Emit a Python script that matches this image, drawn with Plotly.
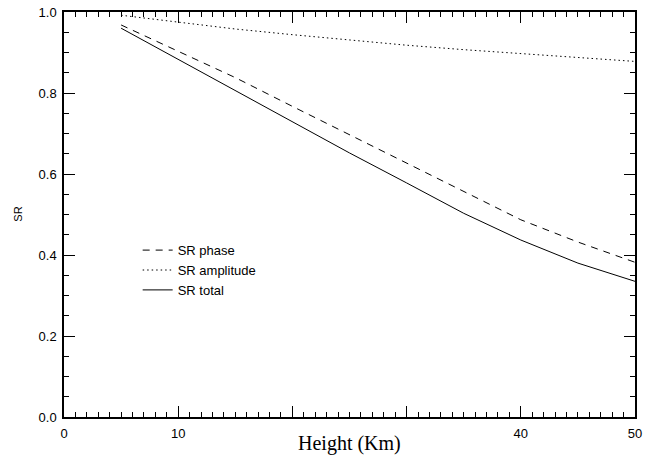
import plotly.graph_objects as go

height_km = [5, 10, 15, 20, 25, 30, 35, 40, 45, 50]
sr_phase = [0.968, 0.904, 0.838, 0.767, 0.697, 0.627, 0.557, 0.487, 0.432, 0.382]
sr_amplitude = [0.992, 0.975, 0.958, 0.944, 0.931, 0.918, 0.907, 0.897, 0.887, 0.878]
sr_total = [0.960, 0.883, 0.804, 0.728, 0.652, 0.578, 0.503, 0.437, 0.380, 0.335]

x_tickvals = [0, 10, 20, 30, 40, 50]
x_ticktext = ["0", "10", "", "", "40", "50"]
y_tickvals = [0.0, 0.2, 0.4, 0.6, 0.8, 1.0]
y_ticktext = ["0.0", "0.2", "0.4", "0.6", "0.8", "1.0"]

fig = go.Figure()
fig.add_trace(go.Scatter(x=height_km, y=sr_phase, mode="lines", name="SR phase",
                         line=dict(color="black", width=1, dash="7px,6px")))
fig.add_trace(go.Scatter(x=height_km, y=sr_amplitude, mode="lines", name="SR amplitude",
                         line=dict(color="black", width=1, dash="1.5px,3px")))
fig.add_trace(go.Scatter(x=height_km, y=sr_total, mode="lines", name="SR total",
                         line=dict(color="black", width=1)))

sans = "Liberation Sans, Arial, sans-serif"
axis_font = dict(family=sans, size=13, color="black")

fig.update_layout(
    width=645, height=456,
    margin=dict(l=64, r=10, t=12, b=39, autoexpand=False),
    paper_bgcolor="white", plot_bgcolor="white",
    showlegend=True,
    legend=dict(x=0.129, y=0.449, xanchor="left", yanchor="top",
                bgcolor="rgba(0,0,0,0)", borderwidth=0,
                font=dict(family=sans, size=13, color="black"),
                tracegroupgap=0, itemwidth=30),
    xaxis=dict(range=[0, 50], tickvals=x_tickvals, ticktext=x_ticktext,
               ticks="inside", ticklen=11, tickwidth=1, tickcolor="black",
               minor=dict(ticks="inside", ticklen=5, dtick=1, tickcolor="black", tickwidth=1),
               showline=True, linecolor="black", linewidth=1.5, mirror="allticks",
               showgrid=False, zeroline=False, tickfont=axis_font,
               ticklabelstandoff=4, automargin=False),
    yaxis=dict(range=[0, 1], tickvals=y_tickvals, ticktext=y_ticktext,
               ticks="inside", ticklen=11, tickwidth=1, tickcolor="black",
               minor=dict(ticks="inside", ticklen=5, dtick=0.05, tickcolor="black", tickwidth=1),
               showline=True, linecolor="black", linewidth=1.5, mirror="allticks",
               showgrid=False, zeroline=False, tickfont=axis_font,
               ticklabelstandoff=3, automargin=False),
    annotations=[
        dict(text="Height (Km)", xref="paper", yref="paper", x=0.5, y=-0.065,
             xanchor="center", yanchor="middle", showarrow=False,
             font=dict(family="Liberation Serif, Times New Roman, serif", size=20, color="black")),
        dict(text="SR", xref="paper", yref="paper", x=-0.082, y=0.5,
             xanchor="center", yanchor="middle", showarrow=False, textangle=-90,
             font=dict(family=sans, size=11, color="black")),
    ],
)

fig.write_html("out.html",
               config={"displayModeBar": False},
               post_script="document.body.style.margin='0';document.body.style.overflow='hidden';")
